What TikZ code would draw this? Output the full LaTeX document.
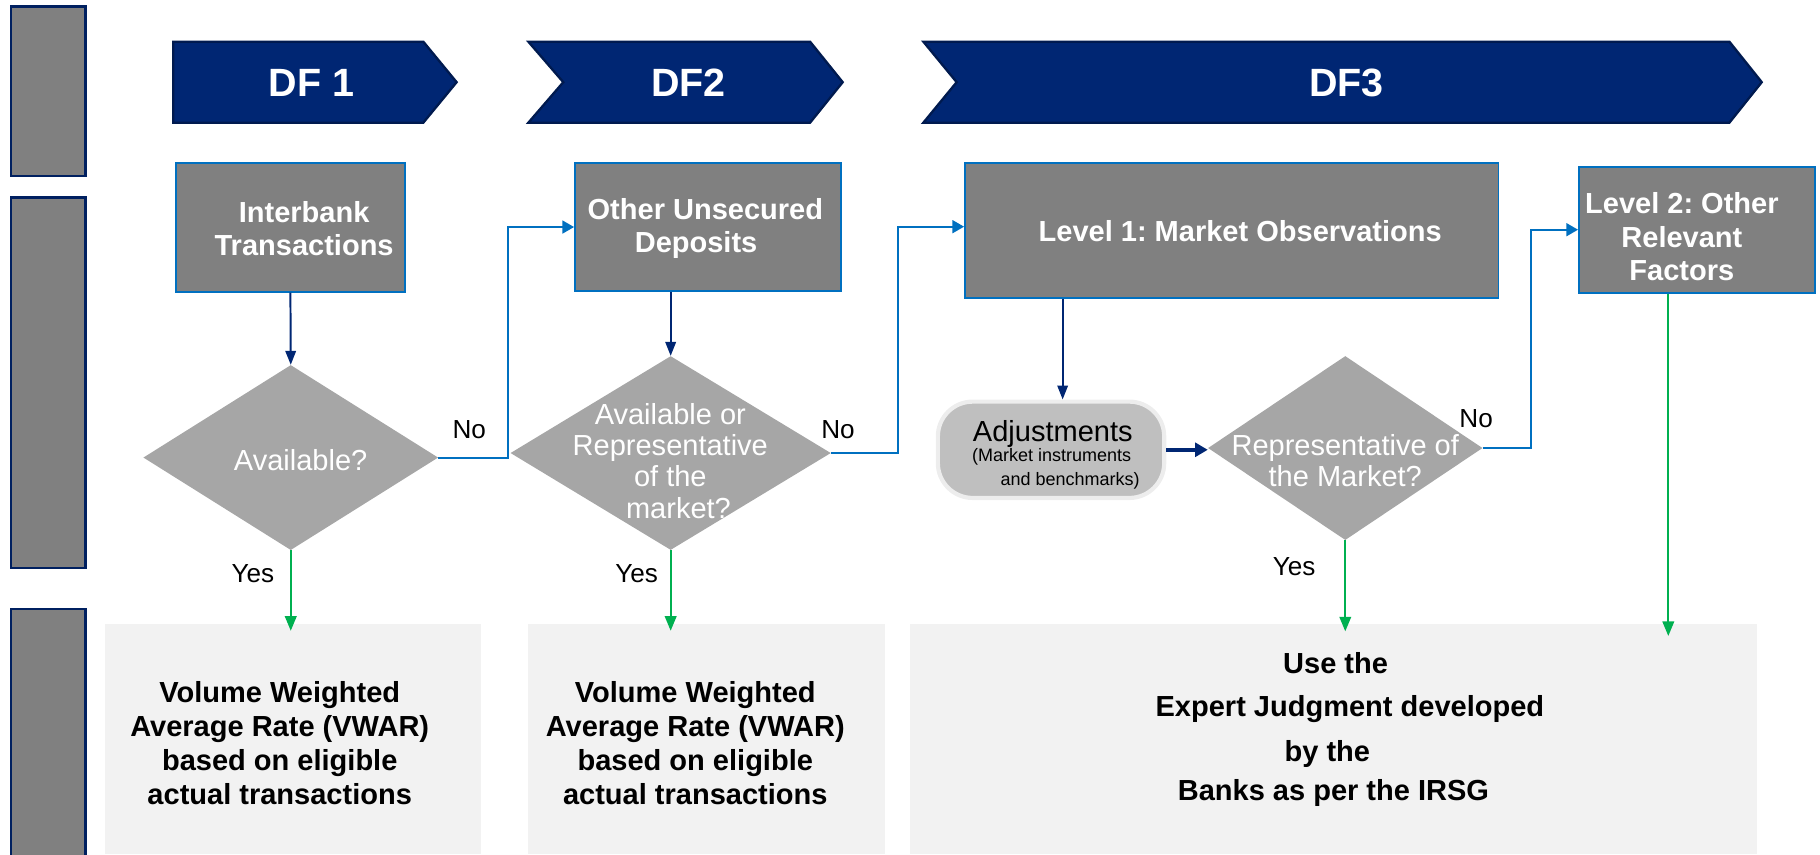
\documentclass[tikz,border=0pt]{standalone}
\usepackage{fontspec}
\setmainfont{Liberation Sans}
\frenchspacing
\usetikzlibrary{shapes.geometric,arrows.meta}
\definecolor{navy}{HTML}{002673}
\definecolor{navyedge}{HTML}{001A4F}
\definecolor{boxblue}{HTML}{0070C0}
\definecolor{boxgray}{HTML}{808080}
\definecolor{diagray}{HTML}{A6A6A6}
\definecolor{pillgray}{HTML}{BFBFBF}
\definecolor{pilledge}{HTML}{EDEDED}
\definecolor{pale}{HTML}{F2F2F2}
\definecolor{okgreen}{HTML}{00B050}
\definecolor{barblue}{HTML}{002060}
\begin{document}
\begin{tikzpicture}[x=1pt,y=-1pt,
  sidebar/.style={draw=barblue, line width=2pt, fill=boxgray, inner sep=0pt},
  chev/.style={draw=navyedge, line width=2pt, fill=navy},
  chevtext/.style={text=white, inner sep=0pt, font=\fontsize{34}{40}\selectfont\bfseries},
  graybox/.style={draw=boxblue, line width=1.6pt, fill=boxgray, inner sep=0pt},
  boxtext/.style={text=white, align=center, inner sep=0pt, font=\fontsize{25}{29}\selectfont\bfseries},
  decision/.style={diamond, fill=diagray, inner sep=0pt},
  dectext/.style={text=white, align=center, inner sep=0pt, font=\fontsize{25}{27}\selectfont},
  pill/.style={draw=pilledge, line width=3.6pt, fill=pillgray, rounded corners=30pt, inner sep=0pt},
  outbox/.style={fill=pale, inner sep=0pt},
  outtext/.style={text=black, align=center, inner sep=0pt, font=\fontsize{25}{29.2}\selectfont\bfseries},
  outline/.style={text=black, inner sep=0pt, text height=18pt, text depth=0pt, font=\fontsize{25}{29}\selectfont\bfseries},
  answer/.style={text=black, inner sep=0pt, text height=16pt, text depth=0pt, font=\fontsize{22.5}{26}\selectfont},
  navyarr/.style={draw=navy, line width=1.7pt, -{Triangle[length=12pt,width=9pt]}},
  navythick/.style={draw=navy, line width=3pt, -{Triangle[length=11pt,width=12pt]}},
  bluearr/.style={draw=boxblue, line width=1.8pt, -{Triangle[length=10pt,width=11pt]}},
  greenarr/.style={draw=okgreen, line width=1.5pt, -{Triangle[length=12.5pt,width=10pt]}}
]
\useasboundingbox (0,0) rectangle (1568,736);

% side bars
\node[sidebar, minimum width=64pt, minimum height=146pt] (barA) at (41.6,78.6) {};
\node[sidebar, minimum width=64pt, minimum height=319.5pt] (barB) at (41.6,329.8) {};
\node[sidebar, minimum width=64pt, minimum height=222pt] (barC) at (41.6,635.6) {};

% chevrons
\path[chev] (149.3,35.9) -- (364.7,35.9) -- (393.4,70.8) -- (364.7,105.7) -- (149.3,105.7) -- cycle;
\path[chev] (455.2,35.9) -- (697.9,35.9) -- (726,70.8) -- (697.9,105.7) -- (455.2,105.7) -- (485.3,70.8) -- cycle;
\path[chev] (795.5,35.9) -- (1489.9,35.9) -- (1517.8,70.8) -- (1489.9,105.7) -- (795.5,105.7) -- (824.2,70.8) -- cycle;
\node[chevtext] (df1) at (268.5,71.5) {DF 1};
\node[chevtext] (df2) at (593,71.5) {DF2};
\node[chevtext] (df3) at (1160,71.5) {DF3};

% bottom result boxes
\node[outbox, minimum width=324pt, minimum height=198.4pt] (b1) at (252.5,636.8) {};
\node[outbox, minimum width=307.6pt, minimum height=198.4pt] (b2) at (608.4,636.8) {};
\node[outbox, minimum width=729.4pt, minimum height=198.4pt] (b3) at (1148.8,636.8) {};
\node[outtext] (b1t) at (241,640) {Volume Weighted\\Average Rate (VWAR)\\based on eligible\\actual transactions};
\node[outtext] (b2t) at (599,640) {Volume Weighted\\Average Rate (VWAR)\\based on eligible\\actual transactions};
\node[outline] (b3a) at (1150.7,571.5) {Use the};
\node[outline] (b3b) at (1163,608) {Expert Judgment developed};
\node[outline] (b3c) at (1143.6,647) {by the};
\node[outline] (b3d) at (1148.8,680.5) {Banks as per the IRSG};

% gray source boxes
\node[graybox, minimum width=197.5pt, minimum height=110.6pt] (ib) at (250.2,196) {};
\node[boxtext] (ibt) at (262,197) {Interbank\\Transactions};
\node[graybox, minimum width=229.2pt, minimum height=109.7pt] (ou) at (610,195.6) {};
\node[boxtext] (out) at (607.7,197) {Other Unsecured\\Deposits\hspace*{16pt}};
\node[graybox, minimum width=459.6pt, minimum height=115.8pt] (l1) at (1061.2,198.6) {};
\node[boxtext] (l1t) at (1068.5,198.7) {Level 1: Market Observations};
\node[graybox, minimum width=203.3pt, minimum height=108.6pt] (l2) at (1462,197.9) {};
\node[boxtext] (l2t) at (1449,204) {Level 2: Other\\Relevant\\Factors};

% decisions
\node[decision, minimum width=254pt, minimum height=159.4pt] (d1) at (250.5,394.2) {};
\node[dectext] (d1t) at (259,396.3) {Available?};
\node[decision, minimum width=276pt, minimum height=167pt] (d2) at (577.8,390.3) {};
\node[dectext] (d2t) at (577.5,397) {Available or\\Representative\\of the\hspace*{10pt}\\\hspace*{14pt}market?};
\node[decision, minimum width=236.5pt, minimum height=158.5pt] (d3) at (1159,386) {};
\node[dectext] (d3t) at (1159,397) {Representative of\\the Market?};

% adjustments
\node[pill, minimum width=195pt, minimum height=83pt] (adj) at (905.5,387.5) {};
\node[text=black, inner sep=0pt, text height=18pt, text depth=0pt, font=\fontsize{25}{29}\selectfont] (adja) at (907,371) {Adjustments};
\node[text=black, inner sep=0pt, font=\fontsize{15.5}{18}\selectfont] (adjb) at (906,394) {(Market instruments};
\node[text=black, inner sep=0pt, font=\fontsize{15.5}{18}\selectfont] (adjc) at (922,414) {and benchmarks)};

% connectors
\draw[navyarr] (ib.south) -- (d1.north);
\draw[navyarr] (d2.north |- ou.south) -- (d2.north);
\draw[navyarr] ([xshift=10pt]adj.north |- l1.south) -- ([xshift=10pt]adj.north);
\draw[navythick] (adj.east) -- (adj.east -| d3.west);
\draw[bluearr] (d1.east) -- ++(59.6pt,0) |- (ou.west);
\draw[bluearr] (d2.east) -- ++(57.6pt,0) |- ([yshift=3.3pt]l1.west);
\draw[bluearr] (d3.east) -- ++(41.8pt,0) |- (l2.west);
\draw[greenarr, shorten >=-6pt] (d1.south) -- (d1.south |- b1.north);
\draw[greenarr, shorten >=-6pt] (d2.south) -- (d2.south |- b2.north);
\draw[greenarr, shorten >=-6.5pt] (d3.south) -- (d3.south |- b3.north);
\draw[greenarr, shorten >=-10.5pt] ([xshift=-24.7pt]l2.south) -- ([xshift=-24.7pt]l2.south |- b3.north);

% answer labels
\node[answer] (no1) at (404.3,369.6) {No};
\node[answer] (no2) at (722,369.6) {No};
\node[answer] (no3) at (1271.7,360) {No};
\node[answer] (yes1) at (217.8,494) {Yes};
\node[answer] (yes2) at (548.5,494) {Yes};
\node[answer] (yes3) at (1115,488) {Yes};
\end{tikzpicture}
\end{document}
